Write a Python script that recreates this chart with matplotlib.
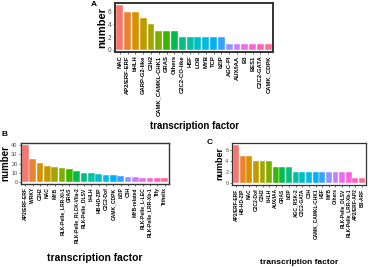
import numpy as np
import matplotlib
matplotlib.use("Agg")
import matplotlib.pyplot as plt

plt.rcParams['font.family'] = ['Liberation Sans', 'DejaVu Sans']

# panel A
a_names = ["NAC", "AP2/ERF-ERF", "bHLH", "GARP-G2-like", "C2H2", "CAMK_CAMKL-CHK1",
           "GRAS", "Others", "C2C2-CO-like", "HSF", "LOB", "MYB", "TCP", "bZIP",
           "AGC-PI", "AUX/IAA", "B3", "BES1", "C2C2-GATA", "CAMK_CDPK"]
a_vals = [7, 6, 6, 5, 4, 3, 3, 3, 2, 2, 2, 2, 2, 2, 1, 1, 1, 1, 1, 1]

# panel B
b_names = ["AP2/ERF-ERF", "WRKY", "C2H2", "NAC", "MYB", "RLK-Pelle_LRR-XI-1", "GRAS",
           "RLK-Pelle_RLCK-VIIa-2", "RLK-Pelle_DLSV", "bHLH", "HB-HD-ZIP", "C2C2-Dof",
           "CAMK_CDPK", "bZIP", "C3H", "MYB-related", "RLK-Pelle_L-LEC",
           "RLK-Pelle_LRR-Xb-1", "Tify", "Trihelix"]
b_vals = [40, 25, 21, 17, 16, 15, 14, 12, 10, 10, 9, 8, 8, 7, 6, 6, 5, 5, 5, 5]

# panel C
c_names = ["AP2/ERF-ERF", "HB-HD-ZIP", "NAC", "C2C2-Dof", "C2H2", "bHLH", "AUX/IAA",
           "GRAS", "bZIP", "AGC_RSK-2", "C2C2-GATA", "C3H", "CAMK_CAMKL-CHK1", "HSF",
           "MYB", "Others", "RLK-Pelle_DLSV", "RLK-Pelle_LRR-Xb-1", "AP2/ERF-AP2", "B3-ARF"]
c_vals = [7, 5, 5, 4, 4, 4, 3, 3, 3, 2, 2, 2, 2, 2, 2, 2, 2, 2, 1, 1]


def hue_pal(n):
    # ggplot2 default hcl hues, l=65 c=100
    hs = np.linspace(15, 375, n + 1)[:n]
    L, C = 65.0, 100.0
    Xn, Yn, Zn = 95.047, 100.0, 108.883
    un = 4 * Xn / (Xn + 15 * Yn + 3 * Zn)
    vn = 9 * Yn / (Xn + 15 * Yn + 3 * Zn)
    M = np.array([[3.2406, -1.5372, -0.4986],
                  [-0.9689, 1.8758, 0.0415],
                  [0.0557, -0.2040, 1.0570]])
    out = []
    for h in hs:
        u = C * np.cos(np.radians(h))
        v = C * np.sin(np.radians(h))
        Y = Yn * ((L + 16) / 116) ** 3
        up = u / (13 * L) + un
        vp = v / (13 * L) + vn
        X = Y * 9 * up / (4 * vp)
        Z = Y * (12 - 3 * up - 20 * vp) / (4 * vp)
        rgb = M @ (np.array([X, Y, Z]) / 100)
        rgb = np.where(rgb <= 0.0031308, 12.92 * rgb, 1.055 * np.clip(rgb, 0, None) ** (1 / 2.4) - 0.055)
        out.append(tuple(np.clip(rgb, 0, 1)))
    return out


W, H = 370, 267
fig = plt.figure(figsize=(W / 100, H / 100), dpi=100)


def panel(box, names, vals, yticks, letter, lpos, tick_fs, lab_fs, xlab_fs, xlab_y, lw):
    x0, y0, x1, y1 = box
    ax = fig.add_axes([x0 / W, 1 - y1 / H, (x1 - x0) / W, (y1 - y0) / H])
    x = np.arange(len(names))
    ax.bar(x, vals, width=0.88, color=hue_pal(len(names)), edgecolor='white', linewidth=0.3)
    ax.set_xlim(-0.6, len(names) - 0.4)
    ax.set_ylim(-max(vals) * 0.045, max(vals) * 1.05)
    ax.set_yticks(yticks)
    ax.set_xticks(x)
    ax.set_xticklabels(names, rotation=90, fontsize=tick_fs, fontweight='bold')
    ax.tick_params(axis='y', labelsize=tick_fs + 0.5, colors='#4d4d4d', length=1.5, width=0.5, pad=1)
    ax.tick_params(axis='x', colors='#333333', length=1.5, width=0.5, pad=1)
    for lab in ax.get_xticklabels():
        lab.set_color('black')
    for s in ax.spines.values():
        s.set_linewidth(lw)
        s.set_color('#333333')
    ax.set_ylabel('number', fontsize=lab_fs, fontweight='bold', labelpad=0.5)
    fig.text((x0 + x1) / 2 / W, 1 - xlab_y / H, 'transcription factor',
             fontsize=xlab_fs, fontweight='bold', ha='center', va='center')
    fig.text(lpos[0] / W, 1 - lpos[1] / H, letter, fontsize=6, fontweight='bold',
             ha='left', va='center')
    return ax


panel((115, 3, 273, 52), a_names, a_vals, [0, 2, 4, 6], 'A', (91, 5), 4.2, 8, 7, 126, 1.4)
panel((21, 143, 169, 184), b_names, b_vals, [0, 10, 20, 30, 40], 'B', (1, 134), 3.6, 7, 7.5, 258, 1.0)
panel((232, 143, 366, 185), c_names, c_vals, [0, 2, 4, 6], 'C', (207, 142), 3.5, 6.5, 6, 262, 0.9)

fig.savefig('out.png', dpi=100)
